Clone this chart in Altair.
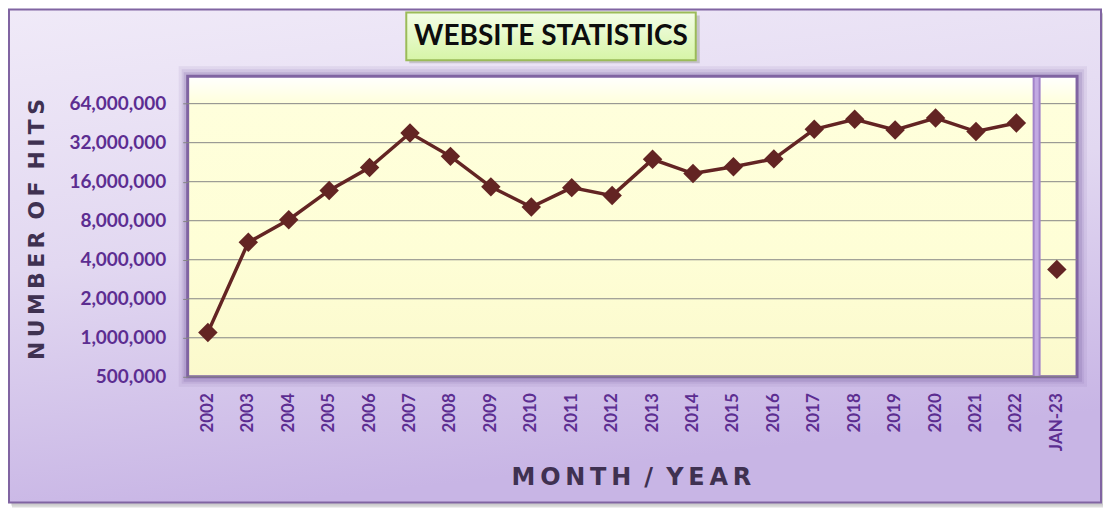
import altair as alt
import pandas as pd

# ---------------- data ----------------
categories = ["2002", "2003", "2004", "2005", "2006", "2007", "2008", "2009", "2010",
              "2011", "2012", "2013", "2014", "2015", "2016", "2017", "2018", "2019",
              "2020", "2021", "2022", "JAN-23"]
hits = [1100000, 5450000, 8150000, 13700000, 20600000, 38000000, 25100000, 14600000,
        10200000, 14400000, 12500000, 23800000, 18500000, 20900000, 24000000, 40600000,
        48500000, 40100000, 49600000, 39000000, 45400000, 3370000]
series = ["year"] * 21 + ["month"]
y_ticks = [500000, 1000000, 2000000, 4000000, 8000000, 16000000, 32000000, 64000000]
separator_before = ["JAN-23"]
chart_title = "WEBSITE STATISTICS"
x_title_words = ["MONTH", "/", "YEAR"]
y_title_words = ["NUMBER", "OF", "HITS"]

THIN = "\u2009"
WORD_GAP = "\u00a0\u2009"


def spaced(words):
    return WORD_GAP.join(THIN.join(w) for w in words)


x_title = spaced(x_title_words)
y_title = spaced(y_title_words)

df = pd.DataFrame({"period": categories, "hits": hits, "series": series})

# ---------------- layout ----------------
W, H = 891, 301
PL, PT, PR, PB = 180, 68, 26, 136

LINE = "#632423"
LABEL = "#5c2d91"
TITLE_C = "#3f3151"
FRAME = "#8064a2"

x_scale = alt.Scale(type="band", paddingInner=0, paddingOuter=0)
y_scale = alt.Scale(type="log", base=2, domain=[500000, 104000000], nice=False)

x_axis = alt.Axis(
    title=x_title, labelAngle=-90, labelFont="Lato", labelFontWeight="bold",
    labelFontSize=17, labelColor=LABEL, labelPadding=16, ticks=False, domain=False,
    grid=False, zindex=2, titleFont="DejaVu Sans", titleFontWeight="bold", titleFontSize=24,
    titleColor=TITLE_C, titleBaseline="middle", titleY=101, titleX=444)
y_axis = alt.Axis(
    title=y_title, values=y_ticks, format=",", labelFont="Lato", labelFontWeight="bold",
    labelFontSize=19, labelColor=LABEL, labelPadding=17, tickSize=5, tickColor="#868686",
    domain=False, grid=False, zindex=2, titleFont="DejaVu Sans", titleFontWeight="bold",
    titleFontSize=22, titleColor=TITLE_C, titleBaseline="middle", titleX=-151, titleY=153)

one = pd.DataFrame({"k": [0]})


def box(x, x2, y, y2, **mk):
    return alt.Chart(one).mark_rect(clip=False, **mk).encode(
        x=alt.value(x), x2=alt.value(x2), y=alt.value(y), y2=alt.value(y2))


bg_grad = alt.LinearGradient(gradient="linear", x1=0, y1=0, x2=0.25, y2=1, stops=[
    alt.GradientStop(color="#f0eaf8", offset=0),
    alt.GradientStop(color="#e2d8f1", offset=0.5),
    alt.GradientStop(color="#c8b5e5", offset=1)])

plot_grad = alt.LinearGradient(gradient="linear", x1=0, y1=0, x2=0, y2=1, stops=[
    alt.GradientStop(color="#ffffff", offset=0),
    alt.GradientStop(color="#ffffdc", offset=0.09),
    alt.GradientStop(color="#fefed6", offset=0.6),
    alt.GradientStop(color="#fbf9cc", offset=1)])

title_grad = alt.LinearGradient(gradient="linear", x1=0, y1=0, x2=0, y2=1, stops=[
    alt.GradientStop(color="#f4fde8", offset=0),
    alt.GradientStop(color="#d6f5a6", offset=1)])

layers = [
    # outer shadow + background frame
    box(-176, 919, -63, 432, fill="#9a9a9a", opacity=0.35),
    box(-177, 917, -64, 430, fill="#b0b0b0", opacity=0.35),
    box(-179, 915, -67, 427, fill=bg_grad, stroke=FRAME, strokeWidth=2),
    # plot area glow/shadow
    box(-9, W + 10, -10, H + 10, fill="#8a70ad", opacity=0.12),
    box(-6, W + 7, -7, H + 7, fill="#8a70ad", opacity=0.16),
    box(-4, W + 5, -4, H + 5, fill="#7d62a2", opacity=0.22),
    box(0, W, 0, H, fill=plot_grad, stroke=FRAME, strokeWidth=3),
    # title box
    box(222, 513, -61, -13, fill="#9a9a9a", opacity=0.45),
    box(219, 509, -64, -16, fill=title_grad, stroke="#9bbb59", strokeWidth=2),
    alt.Chart(pd.DataFrame({"t": [chart_title]})).mark_text(
        font="Lato", fontWeight="bold", fontSize=28, color="#0d0d0d",
        align="center", baseline="middle", clip=False
    ).encode(text="t:N", x=alt.value(364), y=alt.value(-39)),
]

grid = alt.Chart(pd.DataFrame({"hits": y_ticks})).mark_rule(
    color="#868686", strokeWidth=1
).encode(y=alt.Y("hits:Q", scale=y_scale, axis=y_axis))

sep = alt.Chart(pd.DataFrame({"period": separator_before})).mark_rule(
    color="#a283c9", strokeWidth=8
).encode(x=alt.X("period:N", sort=categories, scale=x_scale, bandPosition=0, axis=x_axis),
         y=alt.value(1), y2=alt.value(H - 1))
sep2 = alt.Chart(pd.DataFrame({"period": separator_before})).mark_rule(
    color="#c2a9e2", strokeWidth=4
).encode(x=alt.X("period:N", sort=categories, scale=x_scale, bandPosition=0, axis=x_axis),
         y=alt.value(1), y2=alt.value(H - 1))

x_enc = alt.X("period:N", sort=categories, scale=x_scale, axis=x_axis)
y_enc = alt.Y("hits:Q", scale=y_scale, axis=y_axis)

line = alt.Chart(df).transform_filter(alt.datum.series == "year").mark_line(
    color=LINE, strokeWidth=3.5).encode(x=x_enc, y=y_enc)
pts = alt.Chart(df).mark_point(
    shape="diamond", filled=True, size=380, color=LINE, opacity=1).encode(x=x_enc, y=y_enc)

chart = alt.layer(*layers, grid, sep, sep2, line, pts).properties(
    width=W, height=H,
    padding={"left": PL, "top": PT, "right": PR, "bottom": PB},
    autosize=alt.AutoSizeParams(type="none"),
).configure(background="white").configure_view(stroke=None)

chart.save("out.html", embed_options={"renderer": "svg", "actions": False})
